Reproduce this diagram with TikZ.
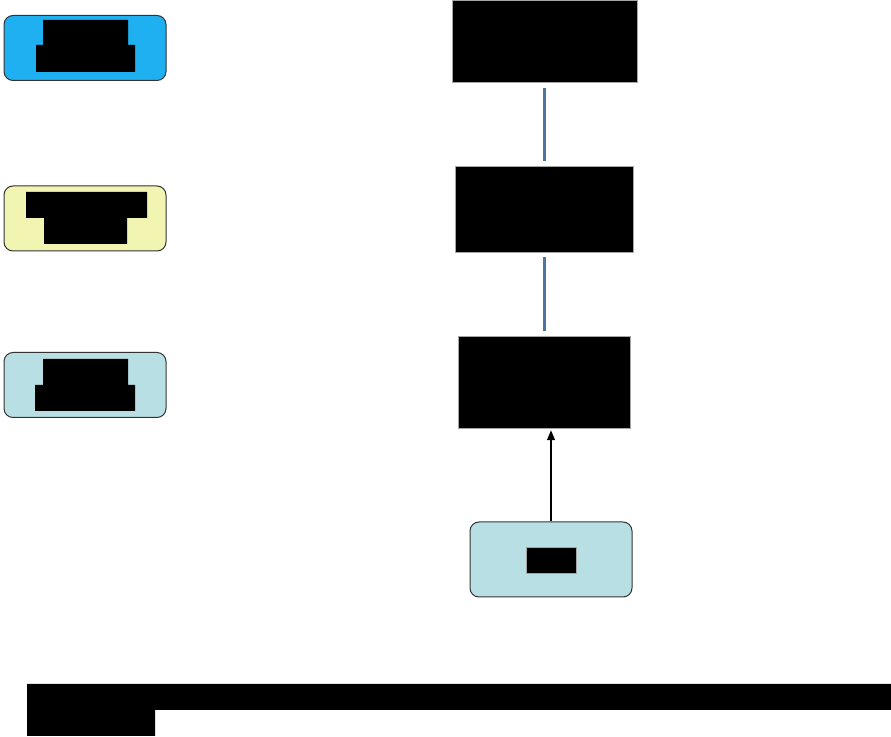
\documentclass[tikz,border=0pt]{standalone}
\usetikzlibrary{arrows.meta}
\definecolor{keyblue}{RGB}{30,176,240}
\definecolor{keyyellow}{RGB}{242,245,178}
\definecolor{keycyan}{RGB}{184,224,228}
\definecolor{linkblue}{RGB}{80,116,160}

\begin{document}
\begin{tikzpicture}[x=.5pt,y=-.5pt,
  key/.style={draw=black!80,line width=.5pt,rounded corners=4.5pt,minimum width=81pt,minimum height=32.5pt},
  stage/.style={fill=black,draw=black!35,line width=.25pt,inner sep=0pt},
  link/.style={linkblue,line width=1.75pt,shorten <=2.5pt,shorten >=2.5pt}]
  \useasboundingbox (0,0) rectangle (891,737);
  % legend
  \node[key,fill=keyblue] (kblue) at (85,48) {};
  \node[key,fill=keyyellow] (kyellow) at (85,218.5) {};
  \node[key,fill=keycyan] (kcyan) at (85,385) {};
  \fill (43,20) -- (128,20) -- (128,45) -- (135,45) -- (135,72) -- (36,72) -- (36,45) -- (43,45) -- cycle;
  \fill (26,192) -- (147,192) -- (147,218) -- (127,218) -- (127,244) -- (44,244) -- (44,218) -- (26,218) -- cycle;
  \fill (43,359) -- (128,359) -- (128,385) -- (135,385) -- (135,411) -- (35,411) -- (35,385) -- (43,385) -- cycle;
  % stages
  \node[stage,minimum width=92.5pt,minimum height=41pt] (s1) at (544.5,41.5) {};
  \node[stage,minimum width=89pt,minimum height=43pt] (s2) at (544.5,209) {};
  \node[stage,minimum width=86pt,minimum height=46pt] (s3) at (544.5,382) {};
  \node[key,fill=keycyan,minimum height=37.5pt] (src) at (551,559.5) {};
  \node[stage,minimum width=25pt,minimum height=13pt] (srclabel) at (551,560) {};
  \draw[link] (s1) -- (s2);
  \draw[link] (s2) -- (s3);
  \draw[line width=.65pt,-{Triangle[length=5pt,width=4pt]},shorten >=1pt] (src.north) -- (src.north |- s3.south);
  % footer
  \fill (27,684) -- (891,684) -- (891,710) -- (155,710) -- (155,736) -- (27,736) -- cycle;
\end{tikzpicture}
\end{document}
